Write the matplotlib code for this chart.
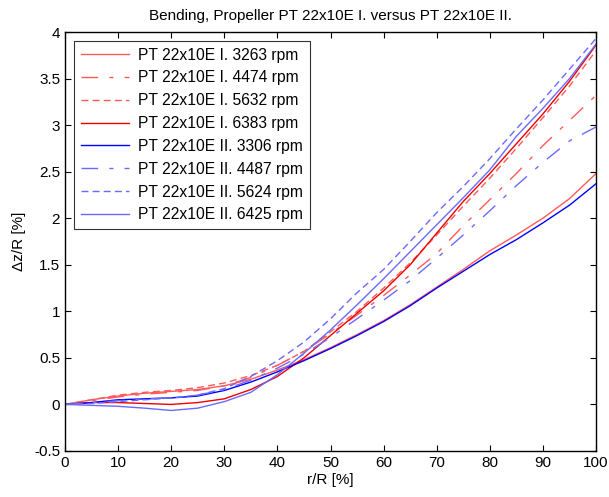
import numpy as np
import matplotlib
matplotlib.use("Agg")
from matplotlib import pyplot as plt
from matplotlib.ticker import FormatStrFormatter

plt.rcParams['font.family'] = ['Liberation Sans', 'DejaVu Sans']

# r/R [%] stations
r = [0, 5, 10, 15, 20, 25, 30, 35, 40, 45, 50, 55, 60, 65, 70, 75, 80, 85, 90, 95, 100]

# propeller I.
dz_I_3263 = [0, 0.05, 0.09, 0.12, 0.14, 0.16, 0.20, 0.27, 0.37, 0.48, 0.61, 0.75, 0.90, 1.07, 1.26, 1.45, 1.65, 1.82, 2.00, 2.21, 2.48]
dz_I_4474 = [0, 0.04, 0.08, 0.11, 0.13, 0.15, 0.20, 0.29, 0.42, 0.57, 0.76, 0.96, 1.17, 1.39, 1.62, 1.92, 2.20, 2.48, 2.78, 3.05, 3.32]
dz_I_5632 = [0, 0.05, 0.10, 0.13, 0.15, 0.18, 0.23, 0.31, 0.42, 0.57, 0.78, 1.00, 1.25, 1.52, 1.82, 2.13, 2.43, 2.75, 3.08, 3.42, 3.80]
dz_I_6383 = [0, 0.02, 0.02, 0.01, 0.00, 0.02, 0.06, 0.16, 0.30, 0.50, 0.74, 0.98, 1.22, 1.50, 1.84, 2.18, 2.48, 2.80, 3.12, 3.47, 3.86]

# propeller II.
dz_II_3306 = [0, 0.02, 0.05, 0.06, 0.07, 0.09, 0.15, 0.24, 0.35, 0.47, 0.60, 0.74, 0.89, 1.06, 1.25, 1.43, 1.61, 1.77, 1.95, 2.14, 2.37]
dz_II_4487 = [0, 0.02, 0.04, 0.06, 0.07, 0.10, 0.16, 0.26, 0.39, 0.54, 0.72, 0.92, 1.12, 1.33, 1.57, 1.82, 2.08, 2.35, 2.60, 2.83, 2.98]
dz_II_5624 = [0, 0.01, 0.03, 0.05, 0.07, 0.10, 0.17, 0.30, 0.47, 0.67, 0.92, 1.20, 1.45, 1.75, 2.06, 2.34, 2.64, 2.96, 3.27, 3.60, 3.93]
dz_II_6425 = [0, -0.01, -0.02, -0.04, -0.065, -0.04, 0.03, 0.13, 0.32, 0.55, 0.80, 1.07, 1.35, 1.64, 1.93, 2.22, 2.52, 2.88, 3.18, 3.50, 3.87]

labels = ['PT 22x10E I. 3263 rpm', 'PT 22x10E I. 4474 rpm', 'PT 22x10E I. 5632 rpm', 'PT 22x10E I. 6383 rpm',
          'PT 22x10E II. 3306 rpm', 'PT 22x10E II. 4487 rpm', 'PT 22x10E II. 5624 rpm', 'PT 22x10E II. 6425 rpm']
series = [dz_I_3263, dz_I_4474, dz_I_5632, dz_I_6383, dz_II_3306, dz_II_4487, dz_II_5624, dz_II_6425]

light_red = '#ff5a5a'
light_blue = '#6a6aff'
colors = [light_red, light_red, light_red, '#ee0000', '#0000ff', light_blue, light_blue, light_blue]
styles = ['-', (0, (12, 8, 3, 8)), (0, (5, 3)), '-', '-', (0, (12, 8, 3, 8)), (0, (5, 3)), '-']

fig = plt.figure(figsize=(6.09, 4.97), dpi=100)
ax = fig.add_axes([0.1067, 0.0926, 0.872, 0.843])

for y, c, ls, lab in zip(series, colors, styles, labels):
    ax.plot(r, y, color=c, linestyle=ls, linewidth=1.0, label=lab)

ax.set_xlim(0, 100)
ax.set_ylim(-0.5, 4)
ax.set_xticks(np.arange(0, 101, 10))
ax.set_yticks(np.arange(-0.5, 4.01, 0.5))
ax.yaxis.set_major_formatter(FormatStrFormatter('%g'))
ax.tick_params(direction='in', top=True, right=True, labelsize=11, length=4, width=0.8)
for s in ax.spines.values():
    s.set_linewidth(1.0)

ax.set_title('Bending, Propeller PT 22x10E I. versus PT 22x10E II.', fontsize=11, pad=9)
ax.set_xlabel('r/R [%]', fontsize=11, labelpad=2)
ax.set_ylabel('\u0394z/R [%]', fontsize=11, labelpad=6)

leg = ax.legend(loc='upper left', fontsize=11.25, handlelength=3.1, labelspacing=0.5,
                fancybox=False, frameon=True, borderaxespad=0.6, handletextpad=0.6)
leg.get_frame().set_edgecolor('black')
leg.get_frame().set_linewidth(0.8)

fig.savefig('out.png', dpi=100)
